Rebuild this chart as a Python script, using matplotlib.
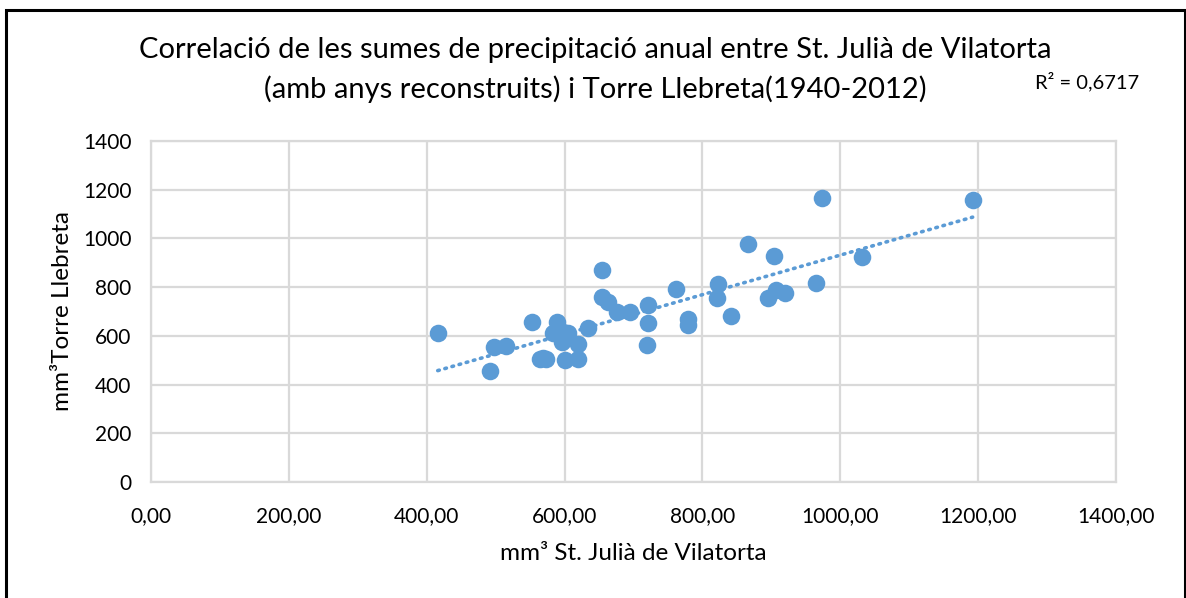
import matplotlib.pyplot as plt
import numpy as np
from matplotlib.patches import Rectangle
from matplotlib.ticker import FuncFormatter

plt.rcParams["font.family"] = ["Lato", "DejaVu Sans"]

# annual precipitation sums (mm)
st_julia = [416, 492, 497, 515, 553, 564, 573, 569, 589, 583, 598, 596, 605,
            620, 601, 620, 634, 655, 655, 663, 676, 695, 721, 721, 719, 762,
            779, 779, 822, 821, 842, 866, 904, 895, 907, 920, 965, 973, 1032,
            1192]
torre_llebreta = [613, 457, 554, 560, 658, 505, 505, 509, 658, 612, 617, 576, 612,
                  567, 501, 505, 634, 870, 761, 740, 699, 699, 727, 654, 563, 791,
                  668, 645, 811, 754, 683, 975, 929, 757, 788, 775, 816, 1166, 922,
                  1157]

x_ticks = [0, 200, 400, 600, 800, 1000, 1200, 1400]
y_ticks = [0, 200, 400, 600, 800, 1000, 1200, 1400]
r2_label = "R² = 0,6717"

blue = "#5B9BD5"
grid_col = "#D9D9D9"

x = np.array(st_julia, dtype=float)
y = np.array(torre_llebreta, dtype=float)

fig = plt.figure(figsize=(11.86, 5.98), dpi=100)
ax = fig.add_axes([0.1273, 0.1935, 0.8137, 0.5712])

ax.scatter(x, y, s=160, color=blue, zorder=3, linewidths=0)

# linear trend over the data range
slope, intercept = np.polyfit(x, y, 1)
xt = np.linspace(x.min(), x.max(), 100)
ax.plot(xt, slope * xt + intercept, color=blue, linewidth=2.6,
        linestyle=(0, (0.45, 1.6)), dash_capstyle="round", zorder=4)

ax.set_xlim(0, 1400)
ax.set_ylim(0, 1400)
ax.set_xticks(x_ticks)
ax.set_yticks(y_ticks)
ax.xaxis.set_major_formatter(FuncFormatter(lambda v, p: f"{v:.2f}".replace(".", ",")))
ax.grid(True, color=grid_col, linewidth=1.6)
ax.set_axisbelow(True)
for s in ax.spines.values():
    s.set_color(grid_col)
    s.set_linewidth(1.6)
ax.tick_params(length=0, labelsize=15, colors="#000000")
ax.tick_params(axis="x", pad=17)
ax.tick_params(axis="y", pad=14)

ax.set_xlabel("mm³ St. Julià de Vilatorta", fontsize=17.5, labelpad=12)
ax.set_ylabel("mm³Torre Llebreta", fontsize=17.5, labelpad=7)

fig.text(0.502, 0.916, "Correlació de les sumes de precipitació anual entre St. Julià de Vilatorta",
         ha="center", va="center", fontsize=21)
fig.text(0.502, 0.851, "(amb anys reconstruits) i Torre Llebreta(1940-2012)",
         ha="center", va="center", fontsize=21)
fig.text(0.873, 0.864, r2_label, ha="left", va="center", fontsize=14.5)

# chart frame
fig.patches.append(Rectangle((6 / 1186, -0.05), 1179 / 1186, 1.05 - 10 / 598,
                             transform=fig.transFigure, fill=False,
                             edgecolor="black", linewidth=2.2))

fig.savefig("out.png", dpi=100)
